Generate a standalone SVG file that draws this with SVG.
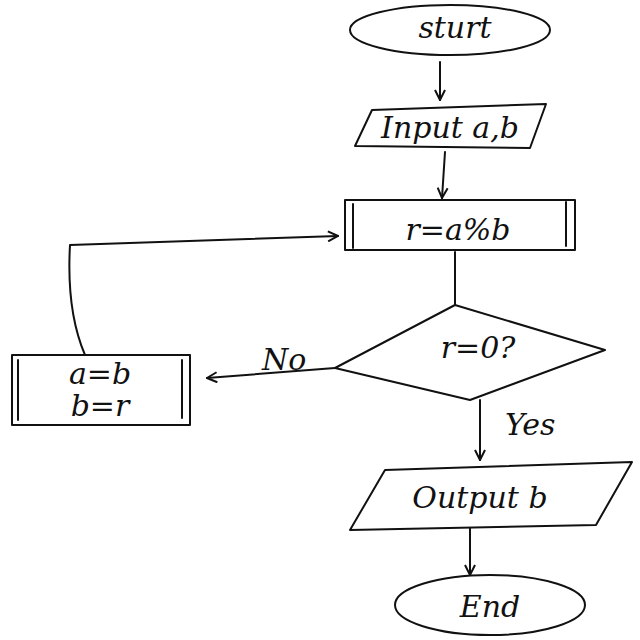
<svg xmlns="http://www.w3.org/2000/svg" width="640" height="640" viewBox="0 0 640 640">
<defs>
<style>
.s{fill:none;stroke:#111;stroke-width:2;stroke-linecap:round;stroke-linejoin:round}
.t{font-family:"DejaVu Serif",serif;font-size:30px;fill:#111;font-style:italic}
</style>
<marker id="a" viewBox="0 0 12 12" refX="11" refY="6" markerWidth="12" markerHeight="12" markerUnits="userSpaceOnUse" orient="auto">
<path d="M1,1 L11,6 L1,11" fill="none" stroke="#111" stroke-width="2"/>
</marker>
</defs>
<rect width="640" height="640" fill="#fff"/>
<g id="start"><ellipse class="s" cx="450" cy="30" rx="100" ry="25"/><text class="t" x="455" y="38" text-anchor="middle">sturt</text></g>
<g id="input"><path class="s" d="M355,146 L372,110 L546,104 L530,148 Z"/><text class="t" x="450" y="138" text-anchor="middle" font-size="26">Input a,b</text></g>
<g id="calc"><rect class="s" x="345" y="200" width="230" height="50"/><path class="s" d="M353,204 V248 M566,202 V246"/><text class="t" x="458" y="240" text-anchor="middle">r=a%b</text></g>
<g id="cond"><path class="s" d="M335,368 L455,305 L605,350 L470,400 Z"/><text class="t" x="478" y="358" text-anchor="middle">r=0?</text></g>
<g id="swap"><rect class="s" x="12" y="355" width="178" height="70"/><path class="s" d="M18,360 V420 M182,360 V418"/><text class="t" x="100" y="384" text-anchor="middle" font-size="24">a=b</text><text class="t" x="100" y="416" text-anchor="middle" font-size="24">b=r</text></g>
<g id="output"><path class="s" d="M350,530 L385,470 L632,462 L596,525 Z"/><text class="t" x="480" y="508" text-anchor="middle" font-size="26">Output b</text></g>
<g id="end"><ellipse class="s" cx="490" cy="605" rx="95" ry="30"/><text class="t" x="490" y="617" text-anchor="middle">End</text></g>
<g id="connectors">
<path class="s" d="M440,62 L440,100" marker-end="url(#a)"/>
<path class="s" d="M445,152 L442,198" marker-end="url(#a)"/>
<path class="s" d="M455,252 L455,305"/>
<path class="s" d="M335,368 L207,378" marker-end="url(#a)"/>
<path class="s" d="M85,355 C70,320 68,280 70,245 L338,236" marker-end="url(#a)"/>
<path class="s" d="M480,400 L480,460" marker-end="url(#a)"/>
<path class="s" d="M470,528 L470,575" marker-end="url(#a)"/>
<text class="t" x="262" y="370" font-size="26">No</text>
<text class="t" x="505" y="435" font-size="26">Yes</text>
</g>
</svg>
